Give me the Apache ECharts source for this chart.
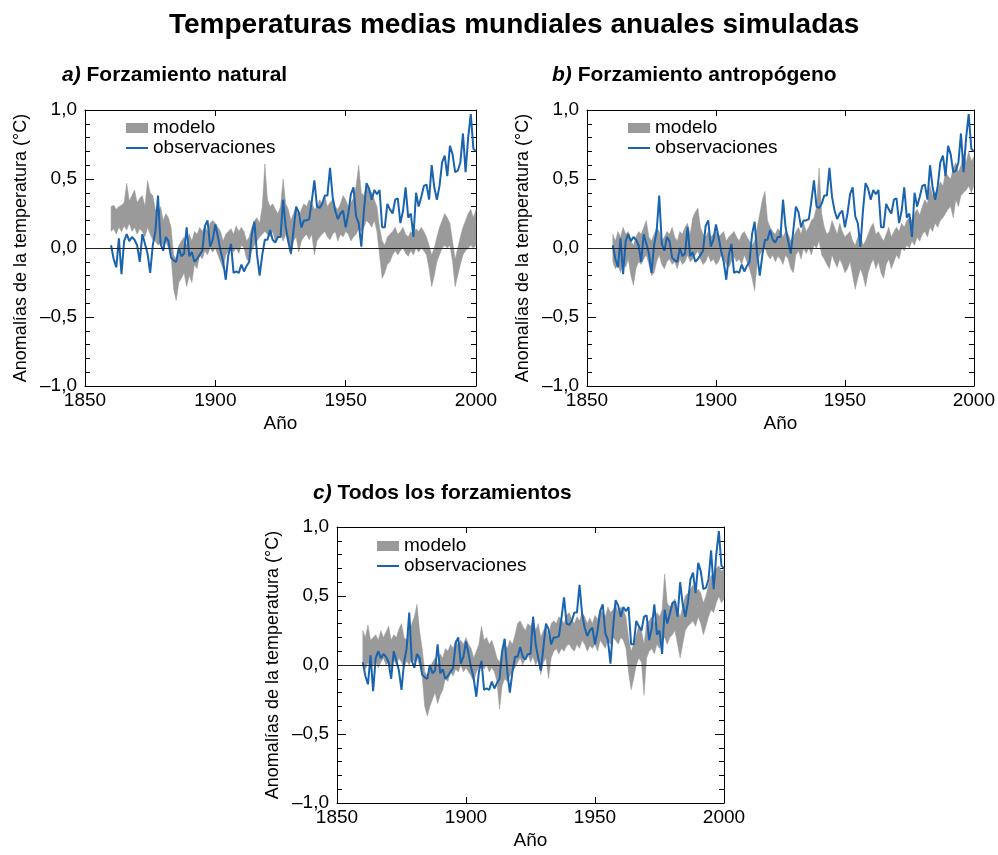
<!DOCTYPE html>
<html>
<head>
<meta charset="utf-8">
<script src="https://cdn.jsdelivr.net/npm/echarts@6/dist/echarts.min.js"></script>
<style>
html,body{margin:0;padding:0;background:#fff;}
#chart{width:998px;height:855px;}
</style>
</head>
<body>
<div id="chart"></div>
<script>
// ---- DATA (years 1860–2000) ----
const startYear = 1860;
const xTicks = [1850, 1900, 1950, 2000];
const yTicks = [-1.0, -0.5, 0.0, 0.5, 1.0];

const obs = [
  0.02, -0.08, -0.14, 0.07, -0.19, 0.05, 0.10, 0.05, 0.08, 0.06,
  0.02, -0.10, 0.10, 0.03, -0.04, -0.18, 0.02, 0.12, 0.38, 0.03,
  -0.02, 0.08, 0.05, -0.07, -0.09, -0.10, 0.00, -0.06, -0.04, 0.15,
  -0.06, -0.03, -0.10, -0.08, -0.05, -0.02, 0.16, 0.20, 0.01, 0.06,
  0.17, 0.08, -0.02, -0.10, -0.23, -0.05, 0.03, -0.18, -0.17, -0.18,
  -0.12, -0.17, -0.13, -0.10, 0.10, 0.19, -0.05, -0.20, -0.05, 0.06,
  0.06, 0.13, 0.06, 0.04, 0.08, 0.08, 0.35, 0.15, 0.05, -0.04,
  0.13, 0.30, 0.26, 0.15, 0.20, 0.20, 0.21, 0.34, 0.49, 0.30,
  0.29, 0.32, 0.38, 0.38, 0.58, 0.37, 0.27, 0.21, 0.25, 0.27,
  0.15, 0.25, 0.39, 0.44, 0.23, 0.18, 0.01, 0.27, 0.47, 0.43,
  0.35, 0.42, 0.39, 0.42, 0.15, 0.15, 0.32, 0.28, 0.25, 0.35,
  0.36, 0.18, 0.27, 0.44, 0.22, 0.25, 0.08, 0.40, 0.30, 0.37,
  0.45, 0.46, 0.35, 0.60, 0.44, 0.35, 0.45, 0.62, 0.67, 0.52,
  0.74, 0.68, 0.55, 0.56, 0.62, 0.83, 0.55, 0.80, 0.97, 0.72,
  0.70
];

// a) natural forcing: model range
const natLow = [
  0.12, 0.14, 0.10, 0.15, 0.12, 0.16, 0.13, 0.18, 0.12, 0.15,
  0.10, 0.14, 0.12, 0.08, 0.15, 0.10, 0.06, 0.05, 0.02, 0.04,
  0.02, 0.05, 0.00, -0.05, -0.30, -0.38, -0.25, -0.22, -0.18, -0.28,
  -0.20, -0.25, -0.12, -0.15, -0.05, -0.08, -0.02, -0.05, 0.00, -0.03,
  0.00, -0.05, -0.10, -0.15, -0.05, -0.02, 0.00, -0.03, 0.00, -0.04,
  0.02, 0.00, -0.08, -0.10, -0.02, 0.02, 0.05, 0.08, 0.10, 0.12,
  0.10, 0.08, 0.12, 0.05, 0.08, 0.10, 0.05, 0.10, 0.02, -0.05,
  0.05, 0.08, -0.03, 0.05, 0.08, 0.10, 0.06, 0.10, -0.05, 0.05,
  0.08, 0.10, 0.12, 0.08, 0.06, 0.10, 0.12, 0.05, 0.10, 0.08,
  0.12, 0.10, 0.05, 0.08, 0.10, 0.14, 0.12, 0.15, 0.20, 0.18,
  0.15, 0.20, 0.12, -0.05, -0.22, -0.18, -0.12, -0.10, -0.05, -0.02,
  -0.05, -0.02, 0.00, -0.04, -0.06, -0.02, -0.05, 0.00, -0.03, 0.00,
  -0.02, -0.05, -0.15, -0.28, -0.20, -0.10, -0.05, 0.00, 0.02, 0.00,
  0.02, -0.10, -0.28, -0.20, -0.12, -0.05, -0.02, 0.00, 0.02, 0.00,
  0.02
];
const natHigh = [
  0.30, 0.31, 0.28, 0.30, 0.31, 0.33, 0.47, 0.34, 0.38, 0.42,
  0.33, 0.36, 0.38, 0.30, 0.49, 0.40, 0.38, 0.28, 0.25, 0.30,
  0.20, 0.25, 0.22, 0.15, -0.05, -0.08, 0.02, 0.05, 0.08, 0.02,
  0.10, 0.05, 0.12, 0.10, 0.15, 0.12, 0.16, 0.12, 0.18, 0.20,
  0.18, 0.15, 0.12, 0.05, 0.10, 0.12, 0.14, 0.10, 0.16, 0.12,
  0.15, 0.12, 0.05, 0.08, 0.15, 0.20, 0.22, 0.18, 0.30, 0.61,
  0.35, 0.30, 0.32, 0.28, 0.25, 0.30, 0.50, 0.32, 0.28, 0.20,
  0.25, 0.30, 0.22, 0.28, 0.32, 0.30, 0.35, 0.33, 0.28, 0.30,
  0.35, 0.32, 0.38, 0.30, 0.33, 0.35, 0.30, 0.28, 0.32, 0.38,
  0.35, 0.30, 0.33, 0.36, 0.45, 0.60, 0.40, 0.38, 0.45, 0.42,
  0.40, 0.35, 0.30, 0.15, 0.05, 0.02, 0.08, 0.10, 0.12, 0.15,
  0.10, 0.12, 0.15, 0.10, 0.08, 0.12, 0.10, 0.14, 0.12, 0.15,
  0.12, 0.08, 0.02, -0.05, 0.00, 0.08, 0.15, 0.20, 0.25, 0.22,
  0.18, 0.05, -0.08, 0.00, 0.08, 0.15, 0.20, 0.25, 0.28, 0.22,
  0.28
];

// b) anthropogenic forcing: model range
const antLow = [
  -0.10, -0.15, -0.12, -0.18, -0.10, -0.14, -0.08, -0.20, -0.27, -0.15,
  -0.10, -0.12, -0.08, -0.05, -0.12, -0.20, -0.18, -0.10, -0.05, -0.12,
  -0.15, -0.10, -0.08, -0.12, -0.10, -0.15, -0.08, -0.12, -0.10, -0.05,
  -0.10, -0.08, -0.05, -0.02, -0.08, -0.12, -0.10, -0.05, -0.10, -0.08,
  -0.12, -0.10, -0.05, -0.08, -0.12, -0.14, -0.10, -0.06, -0.10, -0.08,
  -0.12, -0.05, -0.10, -0.15, -0.22, -0.31, -0.10, -0.05, -0.02, 0.00,
  -0.05, -0.08, -0.05, -0.10, -0.06, -0.08, -0.12, -0.05, -0.08, -0.15,
  -0.18, -0.05, -0.02, -0.08, 0.00, -0.04, 0.00, -0.05, 0.02, 0.00,
  0.05, -0.05, -0.08, -0.12, -0.15, -0.05, -0.10, -0.14, -0.08, -0.12,
  -0.18, -0.15, -0.10, -0.20, -0.30, -0.22, -0.15, -0.20, -0.28, -0.18,
  -0.12, -0.08, -0.15, -0.10, -0.18, -0.22, -0.12, -0.08, -0.15, -0.10,
  -0.05, -0.08, 0.00, -0.02, 0.02, 0.00, 0.05, 0.02, 0.08, 0.05,
  0.10, 0.12, 0.08, 0.15, 0.12, 0.18, 0.15, 0.20, 0.22, 0.25,
  0.28, 0.30, 0.22, 0.35, 0.30, 0.38, 0.40, 0.42, 0.45, 0.40,
  0.45
];
const antHigh = [
  0.10, 0.05, 0.12, 0.08, 0.15, 0.10, 0.12, 0.05, 0.02, 0.08,
  0.12, 0.10, 0.15, 0.20, 0.08, 0.05, 0.10, 0.15, 0.12, 0.05,
  0.08, 0.12, 0.10, 0.15, 0.08, 0.05, 0.12, 0.10, 0.15, 0.18,
  0.10, 0.22, 0.26, 0.29, 0.15, 0.10, 0.08, 0.12, 0.08, 0.10,
  0.12, 0.08, 0.10, 0.12, 0.05, 0.08, 0.10, 0.12, 0.08, 0.05,
  0.10, 0.12, 0.08, 0.05, 0.02, 0.05, 0.15, 0.25, 0.35, 0.41,
  0.20, 0.15, 0.12, 0.10, 0.14, 0.12, 0.08, 0.12, 0.10, 0.05,
  0.08, 0.12, 0.15, 0.10, 0.18, 0.12, 0.15, 0.20, 0.22, 0.30,
  0.58, 0.25, 0.15, 0.10, 0.12, 0.20, 0.15, 0.10, 0.18, 0.12,
  0.08, 0.10, 0.12, 0.05, 0.02, 0.08, 0.10, 0.02, 0.05, 0.10,
  0.15, 0.18, 0.10, 0.12, 0.08, 0.05, 0.10, 0.15, 0.08, 0.12,
  0.15, 0.12, 0.18, 0.15, 0.20, 0.22, 0.20, 0.25, 0.28, 0.24,
  0.30, 0.35, 0.32, 0.45, 0.38, 0.40, 0.42, 0.48, 0.45, 0.55,
  0.52, 0.50, 0.58, 0.62, 0.55, 0.60, 0.68, 0.62, 0.70, 0.63,
  0.66
];

// c) all forcings: model range
const allLow = [
  0.00, -0.03, 0.02, -0.02, 0.00, 0.03, -0.02, 0.02, 0.05, 0.00,
  0.02, -0.03, 0.04, 0.00, 0.05, 0.02, -0.02, 0.03, 0.00, 0.05,
  0.02, 0.05, 0.00, -0.08, -0.30, -0.37, -0.30, -0.25, -0.20, -0.28,
  -0.22, -0.18, -0.10, -0.12, -0.05, -0.08, -0.03, -0.05, 0.00, -0.05,
  -0.02, -0.05, -0.08, -0.12, -0.05, -0.02, 0.00, -0.03, 0.00, -0.05,
  -0.02, -0.05, -0.12, -0.32, -0.15, -0.10, -0.12, -0.08, -0.05, -0.02,
  0.02, 0.05, 0.00, 0.05, 0.08, 0.02, 0.06, 0.00, 0.04, -0.07,
  0.02, 0.05, -0.10, 0.05, 0.10, 0.12, 0.08, 0.12, 0.10, 0.14,
  0.15, 0.12, 0.10, 0.15, 0.12, 0.18, 0.15, 0.10, 0.14, 0.12,
  0.15, 0.10, 0.18, 0.15, 0.12, 0.18, 0.15, 0.20, 0.18, 0.15,
  0.20, 0.18, 0.12, -0.05, -0.18, -0.10, 0.00, 0.05, 0.02, -0.22,
  0.05, 0.10, 0.12, 0.08, 0.15, 0.12, 0.18, 0.20, 0.15, 0.20,
  0.22, 0.25, 0.15, 0.05, 0.15, 0.25, 0.28, 0.30, 0.32, 0.28,
  0.35, 0.30, 0.22, 0.28, 0.35, 0.40, 0.38, 0.45, 0.50, 0.45,
  0.48
];
const allHigh = [
  0.25, 0.20, 0.29, 0.18, 0.20, 0.22, 0.18, 0.25, 0.20, 0.24,
  0.28, 0.18, 0.22, 0.20, 0.26, 0.30, 0.20, 0.18, 0.25, 0.30,
  0.35, 0.44, 0.25, 0.12, -0.05, -0.08, -0.02, 0.02, 0.05, 0.00,
  0.08, 0.05, 0.12, 0.10, 0.15, 0.12, 0.18, 0.14, 0.18, 0.15,
  0.20, 0.15, 0.12, 0.05, 0.10, 0.15, 0.28, 0.18, 0.20, 0.15,
  0.18, 0.12, 0.05, 0.02, 0.10, 0.15, 0.12, 0.18, 0.15, 0.22,
  0.30, 0.32, 0.28, 0.25, 0.30, 0.28, 0.32, 0.25, 0.30, 0.20,
  0.25, 0.28, 0.20, 0.30, 0.32, 0.30, 0.35, 0.33, 0.30, 0.36,
  0.38, 0.33, 0.30, 0.35, 0.32, 0.38, 0.35, 0.30, 0.34, 0.30,
  0.36, 0.33, 0.40, 0.38, 0.35, 0.42, 0.38, 0.40, 0.44, 0.38,
  0.42, 0.40, 0.35, 0.20, 0.10, 0.15, 0.22, 0.28, 0.25, 0.15,
  0.30, 0.32, 0.35, 0.30, 0.38, 0.35, 0.40, 0.66, 0.45, 0.42,
  0.45, 0.48, 0.40, 0.35, 0.42, 0.50, 0.52, 0.55, 0.58, 0.52,
  0.55, 0.52, 0.45, 0.50, 0.58, 0.65, 0.62, 0.70, 0.72, 0.68,
  0.70
];

// ---- BUILD ----
const years = obs.map((_, i) => startYear + i);
const FONT = "'Liberation Sans', Arial, Helvetica, sans-serif";
const BLUE = '#1a63ae';
const GRAY = '#9a9a9a';

const panels = [
  { low: natLow, high: natHigh, grid: { left: 85, top: 110, width: 391, height: 276 },
    legend: { left: 121, top: 118 }, sub: { l: 'a)', t: 'Forzamiento natural', left: 62, top: 65 } },
  { low: antLow, high: antHigh, grid: { left: 587, top: 110, width: 387, height: 276 },
    legend: { left: 623, top: 118 }, sub: { l: 'b)', t: 'Forzamiento antropógeno', left: 552, top: 65 } },
  { low: allLow, high: allHigh, grid: { left: 337, top: 527, width: 387, height: 276 },
    legend: { left: 372, top: 536 }, sub: { l: 'c)', t: 'Todos los forzamientos', left: 313, top: 483 } }
];

const fmtY = v => (v < 0 ? '\u2013' : '') + Math.abs(v).toFixed(1).replace('.', ',');

const option = {
  animation: false,
  backgroundColor: '#fff',
  textStyle: { fontFamily: FONT },
  title: [{
    text: 'Temperaturas medias mundiales anuales simuladas',
    left: 169, top: 11, padding: 0,
    textStyle: { fontSize: 28, fontWeight: 'bold', color: '#000', fontFamily: FONT }
  }].concat(panels.map(p => ({
    text: '{i|' + p.sub.l + '} {b|' + p.sub.t + '}',
    left: p.sub.left, top: p.sub.top, padding: 0,
    textStyle: {
      fontFamily: FONT, fontSize: 21, color: '#000',
      rich: {
        i: { fontStyle: 'italic', fontWeight: 'bold', fontSize: 21, fontFamily: FONT, color: '#000' },
        b: { fontWeight: 'bold', fontSize: 21, fontFamily: FONT, color: '#000' }
      }
    }
  }))),
  legend: panels.map(p => ({
    left: p.legend.left, top: p.legend.top - 5,
    orient: 'vertical', itemWidth: 22, itemHeight: 10, itemGap: 0,
    selectedMode: false, symbolKeepAspect: true,
    textStyle: { fontSize: 19, color: '#000', fontFamily: FONT, lineHeight: 20 },
    data: [
      { name: 'modelo', icon: 'rect', itemStyle: { color: GRAY } },
      { name: 'observaciones', icon: 'path://M0,0L44,0L44,4L0,4Z', itemStyle: { color: BLUE } }
    ]
  })),
  grid: panels.map(p => Object.assign({ containLabel: false }, p.grid)),
  xAxis: [],
  yAxis: [],
  series: []
};

panels.forEach((p, i) => {
  const axisLine = { show: true, onZero: false, lineStyle: { color: '#000', width: 1 } };
  option.xAxis.push({
    type: 'value', gridIndex: i, position: 'bottom', min: 1850, max: 2000, interval: 50,
    axisLine: axisLine, axisTick: { show: true, inside: true, length: 6, lineStyle: { color: '#000' } },
    axisLabel: { show: true, fontSize: 19, color: '#000', margin: 5, fontFamily: FONT,
      formatter: v => xTicks.indexOf(v) >= 0 ? String(v) : '' },
    splitLine: { show: false },
    name: 'Año', nameLocation: 'middle', nameGap: 28,
    nameTextStyle: { fontSize: 19, color: '#000', fontFamily: FONT }
  });
  option.xAxis.push({
    type: 'value', gridIndex: i, position: 'top', min: 1850, max: 2000, interval: 50,
    axisLine: axisLine, axisTick: { show: true, inside: true, length: 6, lineStyle: { color: '#000' } },
    axisLabel: { show: false }, splitLine: { show: false }
  });
  option.yAxis.push({
    type: 'value', gridIndex: i, position: 'left', min: -1, max: 1, interval: 0.5,
    axisLine: axisLine,
    axisTick: { show: true, inside: true, length: 9, lineStyle: { color: '#000' } },
    minorTick: { show: true, splitNumber: 5, length: 5, lineStyle: { color: '#000' } },
    axisLabel: { show: true, fontSize: 19, color: '#000', margin: 8, fontFamily: FONT,
      formatter: v => yTicks.some(t => Math.abs(t - v) < 1e-9) ? fmtY(v) : '' },
    splitLine: { show: false }, minorSplitLine: { show: false },
    name: 'Anomalías de la temperatura (°C)', nameLocation: 'middle', nameGap: 55,
    nameTextStyle: { fontSize: 18, color: '#000', fontFamily: FONT }
  });
  option.yAxis.push({
    type: 'value', gridIndex: i, position: 'right', min: -1, max: 1, interval: 0.5,
    axisLine: axisLine,
    axisTick: { show: true, inside: true, length: 9, lineStyle: { color: '#000' } },
    minorTick: { show: true, splitNumber: 5, length: 5, lineStyle: { color: '#000' } },
    axisLabel: { show: false }, splitLine: { show: false }, minorSplitLine: { show: false }
  });

  const xi = 2 * i, yi = 2 * i;
  const low = p.low, high = p.high;
  option.series.push({
    type: 'custom', name: 'modelo', coordinateSystem: 'cartesian2d',
    xAxisIndex: xi, yAxisIndex: yi, silent: true, z: 1,
    itemStyle: { color: GRAY },
    data: years.map((y, k) => [y, low[k], high[k]]),
    encode: { x: 0, y: [1, 2] },
    renderItem: function (params, api) {
      if (params.dataIndexInside !== 0) return null;
      const pts = [];
      for (let k = 0; k < years.length; k++) pts.push(api.coord([years[k], high[k]]));
      for (let k = years.length - 1; k >= 0; k--) pts.push(api.coord([years[k], low[k]]));
      return { type: 'polygon', shape: { points: pts }, style: { fill: GRAY, stroke: GRAY, lineWidth: 0.5 } };
    }
  });
  option.series.push({
    type: 'line', name: 'observaciones', xAxisIndex: xi, yAxisIndex: yi,
    data: years.map((y, k) => [y, obs[k]]),
    symbol: 'none', silent: true, itemStyle: { color: BLUE },
    lineStyle: { color: BLUE, width: 2 }, z: 3,
    markLine: {
      silent: true, symbol: 'none', label: { show: false },
      lineStyle: { color: '#222', width: 1, type: 'solid' },
      data: [{ yAxis: 0 }]
    }
  });
});

const chart = echarts.init(document.getElementById('chart'), null, { renderer: 'canvas' });
chart.setOption(option);
</script>
</body>
</html>
